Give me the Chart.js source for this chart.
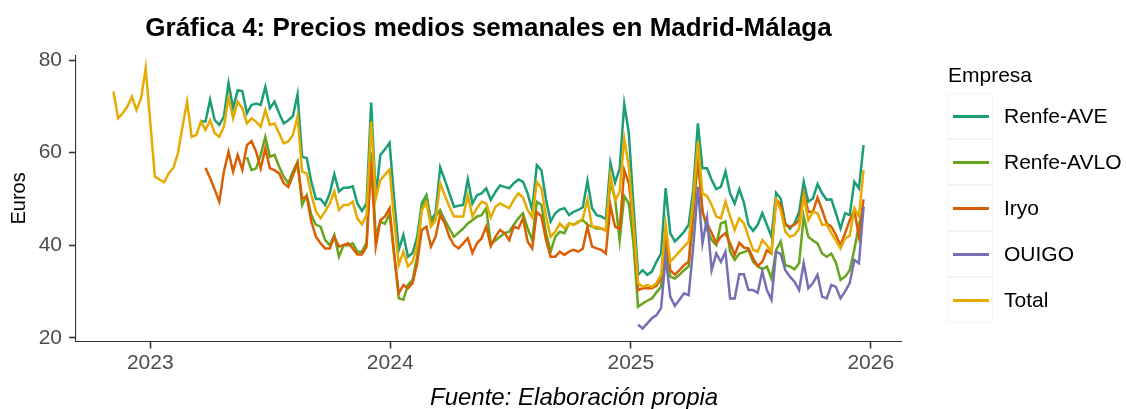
<!DOCTYPE html>
<html>
<head>
<meta charset="utf-8">
<script src="https://cdn.jsdelivr.net/npm/chart.js@4/dist/chart.umd.min.js"></script>
<style>
  body { margin: 0; background: #fff; font-family: "Liberation Sans", Arial, sans-serif; }
  #wrap { position: relative; width: 1126px; height: 409px; overflow: hidden; }
  #wrap canvas { position: absolute; left: 0; top: 0; }
  .lg-title { position: absolute; left: 948px; top: 63px; font-size: 21px; line-height: 24px; color: #000; }
  .lg-key { position: absolute; left: 947px; width: 46px; height: 46px; box-sizing: border-box; border: 1px solid #f4f4f4; }
  .lg-key span { position: absolute; left: 5px; top: 21px; width: 36px; height: 3px; }
  .lg-text { position: absolute; left: 1004px; font-size: 21px; line-height: 24px; color: #000; white-space: nowrap; }
  #caption { position: absolute; left: 430px; top: 383px; font-size: 24px; line-height: 28px; font-style: italic; color: #000; white-space: nowrap; }
</style>
</head>
<body>
<div id="wrap">
  <canvas id="myChart" width="1126" height="409"></canvas>
  <div id="legend"></div>
  <div id="caption">Fuente: Elaboración propia</div>
</div>
<script>
// weekly averages, first week starts 2022-11-06
const startDate = "2022-11-06";

const seriesNames = ["Renfe-AVE", "Renfe-AVLO", "Iryo", "OUIGO", "Total"];
const seriesColors = ["#1B9E77", "#66A61E", "#D95F02", "#7570B3", "#E6AB02"];

const yTicks = [20, 40, 60, 80];
const xTickYears = [2023, 2024, 2025, 2026];

// Total, from week 0
const totalVals = [
  73.2, 67.4, 68.5, 69.9, 72.1, 69.2, 71.7, 78.2, 66.5, 54.8, 54.2, 53.6, 55.5,
  56.7, 59.8, 65.6, 71.0, 63.4, 63.8, 66.7, 64.9, 67.0, 64.2, 63.4, 65.6, 72.0,
  67.4, 71.0, 69.6, 66.3, 67.4, 66.7, 65.6, 69.2, 66.0, 66.3, 64.2, 62.0, 62.4,
  63.8, 67.8, 55.9, 55.5, 50.9, 47.3, 45.8, 47.3, 49.0, 51.6, 47.6, 48.7, 48.7,
  49.4, 45.8, 44.5, 46.5,
  66.7, 50.1, 54.1, 55.2, 56.4, 45.4, 35.7, 38.6, 35.4, 36.4, 40.0, 47.6, 49.2,
  44.0, 45.4, 53.4, 50.8, 48.3, 46.2, 46.2, 46.2, 50.8, 46.2, 48.0, 49.4, 49.0,
  46.0, 48.3,
  49.0, 48.5, 48.0, 49.8, 51.2, 50.3, 47.6, 46.0, 53.7, 52.3, 46.2, 41.8, 42.9,
  44.7, 43.6, 44.7, 44.4, 44.9, 45.8, 49.8, 44.0, 44.0, 43.6, 43.1, 55.2, 49.6,
  51.5, 63.0,
  57.0, 44.7, 31.8, 31.0, 31.4, 31.0, 31.8, 33.6, 44.4, 36.4, 37.5, 38.6, 39.7,
  40.8, 49.8, 62.4, 51.2, 50.6, 48.7, 46.2, 45.8, 49.4, 46.2, 43.3, 45.8, 44.7,
  41.8, 39.0, 38.6, 41.1, 40.0, 38.6, 49.8, 47.6, 42.9, 41.8, 42.2, 43.6, 50.5,
  45.4, 47.2, 46.9, 44.4, 44.4, 42.6, 41.0, 39.3, 41.5, 42.0, 48.0, 46.2, 56.2
];

// Renfe-AVE, from week 19
const aveStart = 19;
const aveVals = [
  66.7, 66.7, 71.4, 67.0, 66.0, 67.8, 75.0,
  69.6, 73.5, 73.3, 68.5, 70.3, 70.6, 70.3, 74.2, 69.6, 71.0, 68.5, 66.3, 67.0,
  67.9, 72.6, 59.1, 58.8, 53.7, 50.0, 50.0, 48.7, 51.2, 55.3, 51.6, 52.4, 52.4,
  52.7, 49.0, 47.4, 49.0,
  70.8, 50.5, 59.5, 60.7, 62.1, 50.0, 39.0, 42.2, 37.5, 38.3, 41.8, 49.0, 50.8,
  45.4, 46.9, 56.8, 54.1, 51.2, 48.3, 48.5, 48.7, 54.2, 49.0, 50.8, 51.2, 52.3,
  49.8, 51.5,
  52.9, 52.6, 52.3, 53.4, 54.2, 53.7, 51.2, 47.6, 57.3, 56.2, 49.8, 45.1, 46.9,
  47.7, 48.0, 46.5, 47.2, 47.6, 48.2, 53.9, 48.0, 46.5, 46.2, 45.6, 57.8, 53.5,
  56.5, 70.5,
  64.2, 48.7, 33.6, 34.6, 33.6, 34.3, 36.4, 38.2, 52.3, 42.6, 40.8, 41.8, 42.9,
  44.4, 52.0, 66.3, 56.6, 56.6, 54.1, 52.1, 52.6, 55.9, 51.2, 49.0, 52.1, 49.2,
  44.4, 43.1, 44.4, 46.9, 44.4, 41.8, 51.3, 50.1, 44.7, 43.6, 44.7, 47.2, 53.7,
  49.4, 50.1, 53.2, 51.2, 49.8, 49.9, 46.9, 43.6, 46.9, 46.5, 53.7, 52.3, 61.6
];

// Renfe-AVLO, from week 29
const avloStart = 29;
const avloVals = [
  59.0, 56.2, 56.6, 59.5, 63.4, 59.1, 59.5, 57.0, 54.8, 53.4, 55.9, 58.0, 48.7,
  50.8, 46.5, 44.4, 44.0, 41.1, 40.0, 42.2, 37.5, 40.0, 40.0, 40.4, 38.6, 38.6,
  40.5,
  60.0, 42.0, 45.1, 44.6, 46.9, 38.0, 28.5, 28.2, 31.4, 32.5, 37.5, 48.3, 50.5,
  44.7, 46.2, 47.6, 45.4, 43.6, 41.8, 42.7, 43.6, 44.7, 45.4, 46.2, 46.5, 48.0,
  40.3, 41.0,
  41.8, 42.6, 42.9, 44.4, 45.8, 46.9, 43.6, 41.1, 49.4, 48.7, 42.6, 38.6, 41.8,
  42.9, 42.6, 44.7, 44.4, 45.1, 45.4, 44.4, 44.0, 43.6, 43.6, 43.3, 53.4, 50.2,
  41.0, 50.6,
  49.0, 40.4, 26.7, 27.4, 28.0, 28.5, 29.8, 31.0, 40.0, 33.2, 32.8, 33.6, 34.6,
  35.4, 46.2, 59.1, 47.6, 43.3, 41.1, 40.0, 44.7, 45.1, 38.6, 36.8, 38.2, 38.5,
  39.0, 36.4, 35.5, 34.8, 35.4, 32.8, 39.0, 40.8, 35.7, 35.4, 34.8, 36.1, 46.2,
  41.8, 41.0, 40.4, 38.2, 37.5, 38.2, 36.2, 32.5, 33.2, 34.6, 39.0, 44.4, 48.3
];

// Iryo, from week 20
const iryoStart = 20;
const iryoVals = [
  56.7, 54.5, 52.0, 49.4, 55.9, 60.2,
  55.9, 59.5, 56.3, 61.6, 62.5, 60.2, 56.6, 60.9, 56.6, 56.2, 55.5, 53.4, 52.6,
  55.1, 57.7, 50.1, 50.5, 45.1, 41.8, 40.4, 39.3, 39.3, 41.8, 39.7, 40.0, 40.4,
  39.3, 38.0, 38.0, 39.7,
  58.0, 39.7, 45.4, 46.2, 48.0, 38.0, 29.6, 31.4, 30.7, 31.8, 36.1, 43.3, 44.0,
  39.7, 41.8, 46.5, 44.7, 41.8, 40.0, 39.3, 40.4, 41.5, 38.3, 40.4, 41.5, 44.0,
  39.8, 41.8,
  43.3, 42.6, 41.1, 44.0, 43.6, 45.8, 40.8, 39.3, 47.2, 46.2, 41.1, 37.5, 37.5,
  38.6, 37.9, 38.6, 39.0, 38.6, 39.3, 44.0, 39.7, 39.3, 39.0, 38.2, 48.6, 44.0,
  43.5, 56.2,
  53.4, 44.7, 30.3, 30.7, 30.7, 30.7, 31.2, 32.8, 42.6, 34.6, 33.6, 34.6, 35.7,
  36.4, 47.6, 59.8, 46.9, 44.7, 42.6, 40.4, 41.8, 42.6, 40.4, 37.9, 40.5, 39.5,
  39.3, 37.2, 35.5, 36.4, 38.9, 38.2, 49.9, 48.7, 44.4, 44.0, 44.4, 45.4, 51.2,
  47.2, 47.2, 50.3, 47.6, 44.7, 44.0, 42.2, 40.0, 42.6, 45.4, 47.6, 41.8, 49.9
];

// OUIGO, from week 114
const ouigoStart = 114;
const ouigoVals = [
  22.8, 22.0, 23.1, 24.2, 24.9, 26.4, 37.5, 28.9, 26.9, 28.2, 29.6, 29.2, 39.7,
  52.6, 40.4, 45.8, 34.6, 38.2, 36.4, 38.6, 28.5, 28.5, 33.7, 33.7,
  30.3, 30.3, 29.7, 34.3, 30.3, 28.2, 38.6, 38.1, 34.6, 33.2, 32.1, 30.3, 36.1,
  30.7, 31.8, 33.6, 28.9, 28.5, 31.4, 31.0, 28.5, 30.0, 31.8, 36.8, 36.1, 48.3
];

const DAY = 86400000;
const day0 = Date.parse(startDate + "T00:00:00Z") / DAY;
const dayOfYearStart = (y) => Date.UTC(y, 0, 1) / DAY;

function toPoints(start, vals) {
  return vals.map((v, i) => ({ x: day0 + 7 * (start + i), y: v }));
}

const seriesData = [
  toPoints(aveStart, aveVals),
  toPoints(avloStart, avloVals),
  toPoints(iryoStart, iryoVals),
  toPoints(ouigoStart, ouigoVals),
  toPoints(0, totalVals),
];

Chart.defaults.font.family = '"Liberation Sans", Arial, sans-serif';

const axisColor = "#333333";

const ctx = document.getElementById("myChart").getContext("2d");
const myChart = new Chart(ctx, {
  type: "line",
  data: {
    datasets: seriesNames.map((name, i) => ({
      label: name,
      data: seriesData[i],
      borderColor: seriesColors[i],
      backgroundColor: seriesColors[i],
      borderWidth: 2.5,
      pointRadius: 0,
      fill: false,
      tension: 0,
      // ggplot draws Total last, on top
      order: seriesNames.length - 1 - i,
    })),
  },
  options: {
    responsive: false,
    animation: false,
    devicePixelRatio: 1,
    layout: { padding: { left: 0, right: 225, top: 0, bottom: 0 } },
    plugins: {
      legend: { display: false },
      tooltip: { enabled: false },
      title: {
        display: true,
        text: "Gráfica 4: Precios medios semanales en Madrid-Málaga",
        color: "#000",
        font: { size: 26, weight: "bold" },
        padding: { top: 12.9, bottom: 11.3 },
        fullSize: false,
      },
    },
    scales: {
      x: {
        type: "linear",
        min: 19245,
        max: 20500,
        afterBuildTicks: (s) => {
          s.ticks = xTickYears.map((y) => ({ value: dayOfYearStart(y) }));
        },
        afterFit: (s) => {
          s.height = 67.5;
        },
        ticks: {
          callback: (v) => new Date(v * DAY).getUTCFullYear(),
          color: "#4D4D4D",
          font: { size: 21 },
          padding: 2,
          maxRotation: 0,
          autoSkip: false,
        },
        grid: {
          drawOnChartArea: false,
          drawTicks: true,
          tickLength: 7,
          tickColor: axisColor,
          tickWidth: 1.6,
        },
        border: { display: true, color: axisColor, width: 1.1 },
      },
      y: {
        type: "linear",
        min: 19.19,
        max: 81.0,
        afterBuildTicks: (s) => {
          s.ticks = yTicks.map((v) => ({ value: v }));
        },
        afterFit: (s) => {
          s.width = 76;
        },
        ticks: {
          color: "#4D4D4D",
          font: { size: 21 },
          padding: 7,
        },
        grid: {
          drawOnChartArea: false,
          drawTicks: true,
          tickLength: 7,
          tickColor: axisColor,
          tickWidth: 1.6,
        },
        border: { display: true, color: axisColor, width: 1.1 },
        title: {
          display: true,
          text: "Euros",
          color: "#000",
          font: { size: 20 },
          padding: { top: 7, bottom: 0 },
        },
      },
    },
  },
});

// legend, ggplot style
const legend = document.getElementById("legend");
let html = '<div class="lg-title">Empresa</div>';
seriesNames.forEach((name, i) => {
  const top = 92.5 + i * 46.2;
  html += '<div class="lg-key" style="top:' + top + 'px"><span style="background:' + seriesColors[i] + '"></span></div>';
  html += '<div class="lg-text" style="top:' + (top + 11) + 'px">' + name + "</div>";
});
legend.innerHTML = html;
</script>
</body>
</html>
